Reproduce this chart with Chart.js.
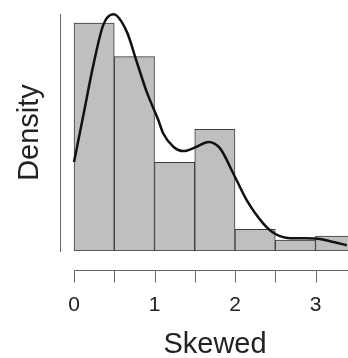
<!DOCTYPE html>
<html>
<head>
<meta charset="utf-8">
<script src="https://cdn.jsdelivr.net/npm/chart.js@4/dist/chart.umd.min.js"></script>
<style>
  html, body { margin: 0; padding: 0; background: #fff; overflow: hidden; }
  #wrap { width: 348px; height: 358px; overflow: hidden; }
  canvas { display: block; }
</style>
</head>
<body>
<div id="wrap"><canvas id="c" width="370" height="358"></canvas></div>
<script>
// Histogram bins (centres) and densities
const binCenters = [0.25, 0.75, 1.25, 1.75, 2.25, 2.75, 3.25];
const binDensity = [0.673, 0.574, 0.262, 0.359, 0.064, 0.032, 0.044];
// Kernel density curve
const kdeX = [0, 0.116, 0.24, 0.364, 0.488, 0.655, 0.779, 0.903, 1.047, 1.109, 1.234, 1.358, 1.524, 1.668, 1.814, 1.979, 2.145, 2.352, 2.497, 2.683, 2.994, 3.18, 3.388];
const kdeY = [0.263, 0.401, 0.549, 0.668, 0.699, 0.648, 0.559, 0.470, 0.387, 0.347, 0.308, 0.295, 0.308, 0.322, 0.303, 0.229, 0.150, 0.081, 0.051, 0.038, 0.037, 0.029, 0.017];
// Axis ticks
const xTicks = [0, 0.5, 1, 1.5, 2, 2.5, 3, 3.5];
const xTickLabels = ['0', '', '1', '', '2', '', '3', ''];

const FONT = '"Liberation Sans", Arial, Helvetica, sans-serif';

const rAxisPlugin = {
  id: 'rAxis',
  afterDraw(chart) {
    const xs = chart.scales.x;
    const ctx = chart.ctx;
    const y0 = Math.round(chart.chartArea.bottom + 19) + 0.5;
    ctx.save();
    ctx.strokeStyle = '#666';
    ctx.lineWidth = 1;
    ctx.beginPath();
    const xa = Math.round(xs.getPixelForValue(xTicks[0])) + 0.5;
    const xb = Math.round(xs.getPixelForValue(xTicks[xTicks.length - 1])) + 0.5;
    ctx.moveTo(xa, y0);
    ctx.lineTo(xb, y0);
    xTicks.forEach(v => {
      const px = Math.round(xs.getPixelForValue(v)) + 0.5;
      ctx.moveTo(px, y0);
      ctx.lineTo(px, y0 + 12);
    });
    ctx.stroke();
    ctx.restore();
  }
};

new Chart(document.getElementById('c'), {
  type: 'bar',
  data: {
    datasets: [
      {
        type: 'line',
        data: kdeX.map((x, i) => ({ x: x, y: kdeY[i] })),
        borderColor: '#111',
        borderWidth: 2.5,
        pointRadius: 0,
        cubicInterpolationMode: 'monotone',
        fill: false,
        clip: false,
        order: 0
      },
      {
        type: 'bar',
        data: binCenters.map((x, i) => ({ x: x, y: binDensity[i] })),
        backgroundColor: '#bfbfbf',
        borderColor: '#3a3a3a',
        borderWidth: 1,
        borderSkipped: false,
        barPercentage: 1,
        categoryPercentage: 1,
        order: 1
      }
    ]
  },
  options: {
    responsive: false,
    animation: false,
    events: [],
    layout: { padding: { top: 14, left: 0, right: 0, bottom: 0 } },
    plugins: { legend: { display: false }, tooltip: { enabled: false } },
    scales: {
      x: {
        type: 'linear',
        offset: false,
        min: -0.174,
        max: 3.677,
        afterBuildTicks: s => { s.ticks = xTicks.map(v => ({ value: v })); },
        afterFit: s => { s.height = 107; s.paddingLeft = 0; s.paddingRight = 0; },
        grid: { display: false, drawTicks: false, offset: false },
        border: { display: false },
        ticks: {
          autoSkip: false,
          maxRotation: 0,
          padding: 42,
          color: '#222',
          font: { family: FONT, size: 21 },
          callback: (v) => { const i = xTicks.indexOf(v); return i >= 0 ? xTickLabels[i] : ''; }
        },
        title: {
          display: true,
          text: 'Skewed',
          color: '#222',
          font: { family: FONT, size: 29, lineHeight: 0.88 },
          padding: { top: 0, bottom: 0 }
        }
      },
      y: {
        min: 0,
        max: 0.7,
        afterFit: s => { s.width = 60; },
        grid: { display: false, drawTicks: false },
        border: { display: true, color: '#666', width: 1 },
        ticks: { display: false },
        title: {
          display: true,
          text: 'Density',
          color: '#222',
          font: { family: FONT, size: 29, lineHeight: 0.88 },
          padding: { top: 17, bottom: 0 }
        }
      }
    }
  },
  plugins: [rAxisPlugin]
});
</script>
</body>
</html>
